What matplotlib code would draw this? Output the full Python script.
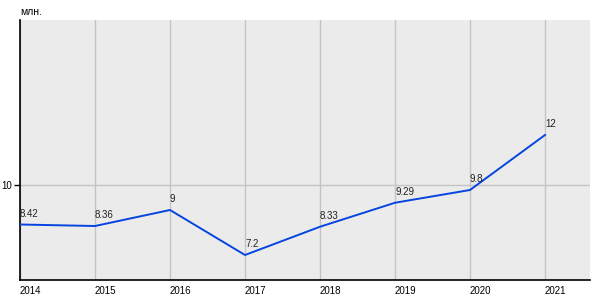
import matplotlib
matplotlib.use("Agg")
from matplotlib import pyplot as plt

years = [2014, 2015, 2016, 2017, 2018, 2019, 2020, 2021]
values = [8.42, 8.36, 9, 7.2, 8.33, 9.29, 9.8, 12]
labels = ["8.42", "8.36", "9", "7.2", "8.33", "9.29", "9.8", "12"]

plt.rcParams['font.family'] = ['Liberation Sans', 'DejaVu Sans']

fig = plt.figure(figsize=(6, 3), dpi=100)
ax = fig.add_axes([20 / 600, 20 / 300, 570 / 600, 260 / 300])
ax.set_facecolor('#ebebeb')

ax.plot(years, values, color='#0645e0', lw=1.4, zorder=3)
# value labels sit just above each point, left aligned
for x, y, s in zip(years, values, labels):
    ax.annotate(s, (x, y), xytext=(0, 4), textcoords='offset points',
                ha='left', va='bottom', fontsize=7, color='#222222')

ax.set_xlim(2014, 2021.6)
ax.set_ylim(6.2, 16.6)
ax.set_xticks(years)
ax.set_xticklabels([str(y) for y in years], ha='left')
ax.set_yticks([10])
ax.grid(True, color='#c4c4c4', lw=1, zorder=0)
ax.set_axisbelow(True)

ax.tick_params(axis='x', length=0, pad=4, labelsize=7)
ax.tick_params(axis='y', length=4, width=1, pad=2, labelsize=7)

ax.spines['top'].set_visible(False)
ax.spines['right'].set_visible(False)
ax.spines['left'].set_linewidth(1.2)
ax.spines['bottom'].set_linewidth(1.2)

fig.text(20 / 600, 1 - 12 / 300, 'млн.', fontsize=7.5, ha='left', va='center')

fig.savefig('out.png', dpi=100)
